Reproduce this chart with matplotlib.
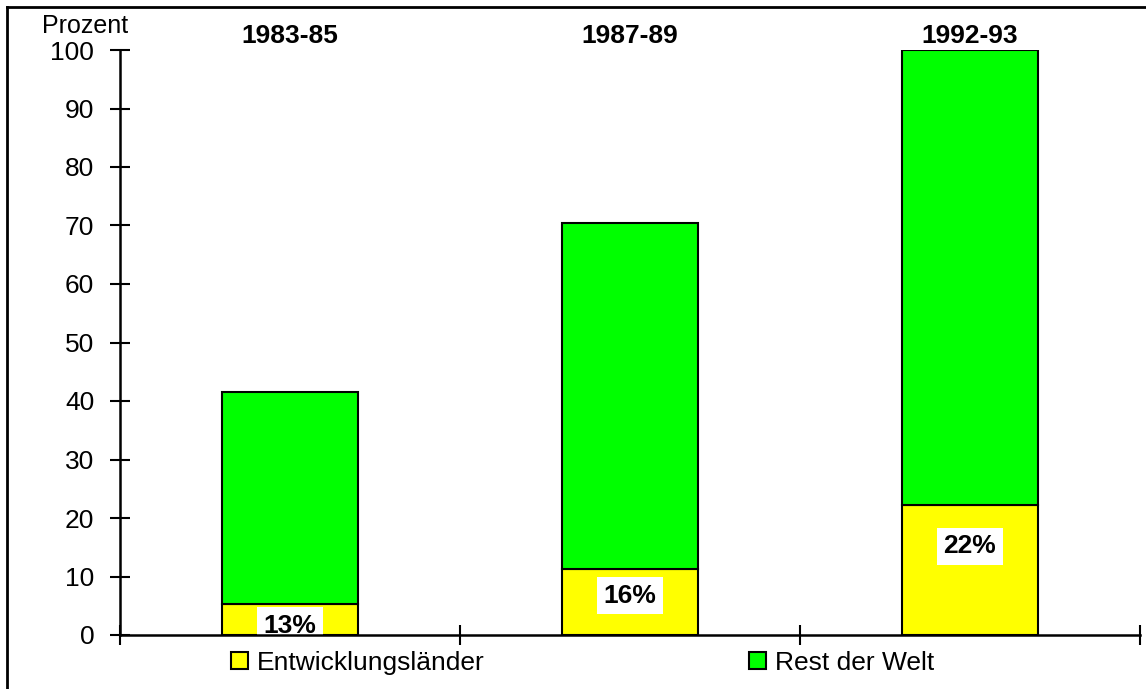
import matplotlib
matplotlib.use("Agg")
import matplotlib.pyplot as plt
from matplotlib.lines import Line2D

categories = ["1983-85", "1987-89", "1992-93"]
entwicklung = [5.3, 11.3, 22.2]
rest = [36.2, 59.1, 77.8]
pct_labels = ["13%", "16%", "22%"]
pct_label_y = [0.4, 5.5, 14.0]
yticks = list(range(0, 101, 10))

plt.rcParams['font.family'] = ['Liberation Sans', 'DejaVu Sans']

fig = plt.figure(figsize=(11.46, 6.89), dpi=100)
ax = fig.add_axes([120/1146, 1-635/689, 1020/1146, 585/689])

x = list(range(len(categories)))
b1 = ax.bar(x, entwicklung, width=0.4, color="#FFFF00", edgecolor="black", linewidth=1.5, label="Entwicklungsländer")
b2 = ax.bar(x, rest, width=0.4, bottom=entwicklung, color="#00FF00", edgecolor="black", linewidth=1.5, label="Rest der Welt")

ax.set_xlim(-0.5, 2.5)
ax.set_ylim(0, 100)
ax.set_yticks(yticks)
ax.set_yticklabels([str(v) for v in yticks], fontsize=19)
ax.set_xticks([-0.5, 0.5, 1.5, 2.5])
ax.set_xticklabels([])
ax.tick_params(axis='both', direction='inout', length=15, width=1.5, color='black')
ax.tick_params(axis='y', pad=11)
for s in ['top', 'right']:
    ax.spines[s].set_visible(False)
for s in ['left', 'bottom']:
    ax.spines[s].set_linewidth(1.8)
    ax.spines[s].set_zorder(5)

for i, c in enumerate(categories):
    ax.text(i, 102.4, c, ha='center', va='center', fontsize=19, fontweight='bold', clip_on=False)

for i, (lab, yy) in enumerate(zip(pct_labels, pct_label_y)):
    ax.text(i, yy, lab, ha='center', va='baseline', fontsize=19, fontweight='bold', zorder=2,
            bbox=dict(boxstyle='square,pad=0.25', facecolor='white', edgecolor='none'))

fig.text(85/1146, 1-33/689, "Prozent", ha='center', va='baseline', fontsize=18)

leg = fig.legend(handles=[b1, b2], loc='center left', bbox_to_anchor=(231/1146, 1-663/689), ncol=2,
                 frameon=False, fontsize=19, handlelength=0.64, handleheight=0.64, handletextpad=0.35,
                 columnspacing=10.0, borderpad=0, borderaxespad=0)

fig.add_artist(Line2D([7/1146, 7/1146], [0, 1-7/689], transform=fig.transFigure, color='black', lw=2))
fig.add_artist(Line2D([7/1146, 1], [1-7/689, 1-7/689], transform=fig.transFigure, color='black', lw=2))

fig.savefig("out.png", dpi=100)
